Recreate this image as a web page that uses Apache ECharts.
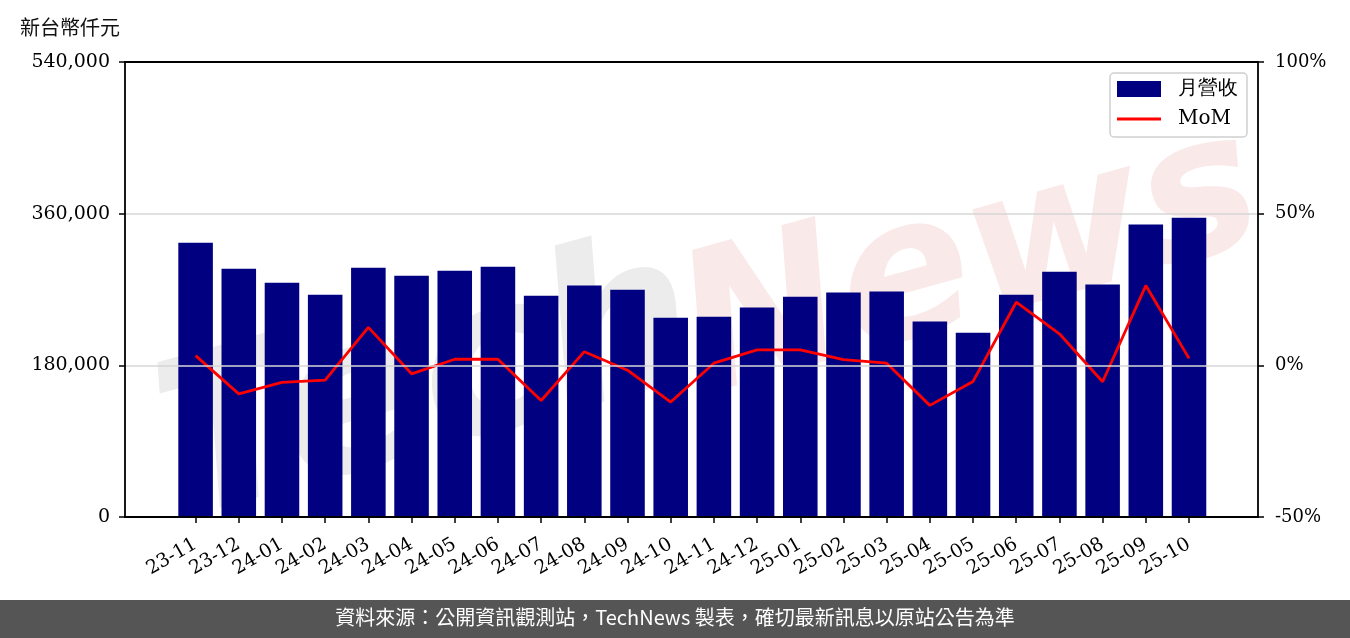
<!DOCTYPE html>
<html>
<head>
<meta charset="utf-8">
<script src="https://cdn.jsdelivr.net/npm/echarts@6/dist/echarts.min.js"></script>
<style>
html,body{margin:0;padding:0;background:#fff;}
#chart{width:1350px;height:638px;}
</style>
</head>
<body>
<div id="chart"></div>
<script>
const categories = ['23-11','23-12','24-01','24-02','24-03','24-04','24-05','24-06','24-07','24-08','24-09','24-10','24-11','24-12','25-01','25-02','25-03','25-04','25-05','25-06','25-07','25-08','25-09','25-10'];
const revenue = [325600,294700,278100,263900,295900,286400,292400,297100,262700,274600,269800,236600,237800,248500,261500,266300,267500,231900,218800,263900,291200,275800,347000,355300];
const mom = [3.2,-9.4,-5.6,-4.9,12.5,-2.8,2.0,2.0,-11.6,4.5,-1.6,-12.1,0.7,5.1,5.1,1.9,0.7,-13.2,-5.3,20.8,10.4,-5.4,26.3,2.3];
const leftTicks = {min:0, max:540000, interval:180000};
const rightTicks = {min:-50, max:100, interval:50};
const unitLabel = '新台幣仟元';
const footerText = '資料來源：公開資訊觀測站，TechNews 製表，確切最新訊息以原站公告為準';

const chart = echarts.init(document.getElementById('chart'), null, {renderer:'canvas'});
const serif = 'DejaVu Serif';
const frameLine = {show:true, onZero:false, lineStyle:{color:'#000', width:1.8}};
const option = {
  animation:false,
  backgroundColor:'#fff',
  title:{text:unitLabel, left:15, top:12, textStyle:{fontSize:20, fontWeight:'normal', color:'#111', fontFamily:'Noto Sans CJK TC'}},
  legend:{
    orient:'vertical', right:103, top:73,
    itemWidth:44, itemHeight:16, itemGap:10,
    padding:[6,9,8,7],
    borderColor:'#d0d0d0', borderWidth:1.5, borderRadius:4,
    backgroundColor:'rgba(255,255,255,0.85)',
    symbolKeepAspect:true,
    textStyle:{fontFamily:serif, fontSize:20, lineHeight:20, color:'#000', padding:[0,0,0,12]},
    data:[{name:'月營收', icon:'rect'},{name:'MoM', icon:'path://M0,0H44V3H0Z'}]
  },
  grid:[
    {left:125, right:92, top:62, bottom:121, containLabel:false},
    {left:174, right:139.4, top:62, bottom:121, containLabel:false}
  ],
  xAxis:[
    {type:'value', gridIndex:0, min:0, max:1, position:'bottom', z:5, axisLine:frameLine, axisTick:{show:false}, axisLabel:{show:false}, splitLine:{show:false}},
    {type:'value', gridIndex:0, min:0, max:1, position:'top', z:5, axisLine:frameLine, axisTick:{show:false}, axisLabel:{show:false}, splitLine:{show:false}},
    {type:'category', gridIndex:1, data:categories, position:'bottom',
      axisLine:{show:false, onZero:false},
      axisTick:{show:true, alignWithLabel:true, length:6, lineStyle:{color:'#000', width:1.5}},
      axisLabel:{rotate:30, fontFamily:serif, fontSize:19, color:'#000', margin:26, interval:0}}
  ],
  yAxis:[
    {type:'value', gridIndex:0, position:'left', min:leftTicks.min, max:leftTicks.max, interval:leftTicks.interval, z:5,
      axisLine:frameLine,
      axisTick:{show:true, length:6, lineStyle:{color:'#000', width:1.5}},
      axisLabel:{fontFamily:serif, fontSize:19, color:'#000', margin:15, padding:[5,0,0,0], formatter:v=>v.toLocaleString('en-US')},
      splitLine:{show:true, showMinLine:false, showMaxLine:false, lineStyle:{color:'#d6d6d6', width:1.5}}},
    {type:'value', gridIndex:0, position:'right', min:rightTicks.min, max:rightTicks.max, interval:rightTicks.interval, z:5,
      axisLine:frameLine,
      axisTick:{show:true, length:6, lineStyle:{color:'#000', width:1.5}},
      axisLabel:{fontFamily:serif, fontSize:18, color:'#000', margin:17, padding:[5,0,0,0], formatter:'{value}%'},
      splitLine:{show:false}},
    {type:'value', gridIndex:1, min:leftTicks.min, max:leftTicks.max, show:false, splitLine:{show:false}},
    {type:'value', gridIndex:1, min:rightTicks.min, max:rightTicks.max, show:false, splitLine:{show:false}}
  ],
  series:[
    {name:'月營收', type:'bar', xAxisIndex:2, yAxisIndex:2, data:revenue, barCategoryGap:'20%', itemStyle:{color:'#000080'}, z:3},
    {name:'MoM', type:'line', xAxisIndex:2, yAxisIndex:3, data:mom, symbol:'none', lineStyle:{color:'#ff0000', width:2.8}, itemStyle:{color:'#ff0000'}, z:4}
  ],
  graphic:[
    {type:'text', z:1, left:140, top:215, rotation:0.27, silent:true,
      style:{text:'Tech', font:'italic bold 215px "DejaVu Sans"', fill:'#ececec'}},
    {type:'text', z:1, left:660, top:95, rotation:0.27, silent:true,
      style:{text:'News', font:'italic bold 195px "DejaVu Sans"', fill:'#fae9e9'}},
    {type:'rect', left:0, top:600, z:100, shape:{width:1350, height:38}, style:{fill:'#555555'}},
    {type:'text', left:'center', top:607, z:101, style:{text:footerText, fill:'#ffffff', font:'20px "Noto Sans CJK TC"'}}
  ]
};
chart.setOption(option);
</script>
</body>
</html>
